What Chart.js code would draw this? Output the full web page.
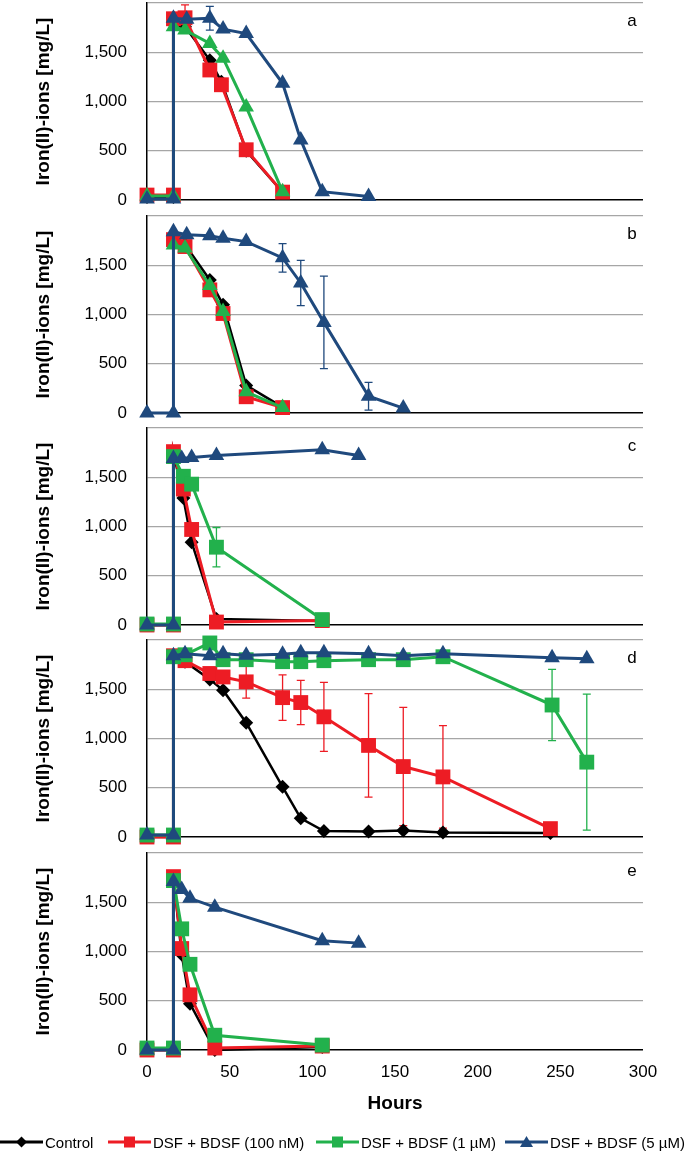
<!DOCTYPE html>
<html>
<head>
<meta charset="utf-8">
<script src="https://cdn.jsdelivr.net/npm/chart.js@4.4.0/dist/chart.umd.min.js"></script>
<style>
  body { margin: 0; background: #fff; width: 685px; height: 1154px; position: relative; overflow: hidden;
         font-family: 'Liberation Sans', Arial, sans-serif; }
  canvas.panel { position: absolute; left: 0; }
  #legend { position: absolute; left: 0; top: 1132px; width: 685px; height: 20px; font-size: 15px; color: #000; }
  .item { position: absolute; top: 0; height: 20px; display: flex; align-items: center; white-space: nowrap; }
  .item svg { margin-right: 2px; }
</style>
</head>
<body>
<canvas class="panel" id="p0" width="685" height="221"></canvas>
<canvas class="panel" id="p1" width="685" height="221"></canvas>
<canvas class="panel" id="p2" width="685" height="221"></canvas>
<canvas class="panel" id="p3" width="685" height="221"></canvas>
<canvas class="panel" id="p4" width="685" height="279"></canvas>
<div id="legend"></div>
<script>
// series shared by every panel
const seriesNames = ['Control', 'DSF + BDSF (100 nM)', 'DSF + BDSF (1 µM)', 'DSF + BDSF (5 µM)'];
const seriesColors = ['#000000', '#ED1C24', '#22B14C', '#1F497D'];
const panelLetters = ['a', 'b', 'c', 'd', 'e'];
const yTicks = [0, 500, 1000, 1500, 2000];
const xTicks = [0, 50, 100, 150, 200, 250, 300];

// [hours, mg/L]
// panel a
const ctrlA  = [[0, 30], [16, 30], [16, 1850], [23, 1760], [38, 1420], [45, 1200], [60, 500], [82, 80]];
const redA   = [[0, 50], [16, 50], [16, 1840], [23, 1850], [38, 1320], [45, 1170], [60, 510], [82, 80]];
const greenA = [[0, 40], [16, 40], [16, 1760], [23, 1725], [38, 1590], [46, 1440], [60, 945], [82, 85]];
const blueA  = [[0, 10], [16, 10], [16, 1845], [24, 1835], [38, 1845], [46, 1735], [60, 1690], [82, 1185], [93, 610], [106, 85], [134, 35]];
const redAErr  = [null, null, null, 130, null, null, null, null];
const blueAErr = [null, null, null, null, 120, null, null, null, null, null, null];

// panel b
const ctrlB  = [[16, 1790], [23, 1710], [38, 1350], [46, 1100], [60, 280], [82, 60]];
const redB   = [[16, 1760], [23, 1690], [38, 1250], [46, 1010], [60, 165], [82, 55]];
const greenB = [[16, 1705], [23, 1675], [38, 1295], [46, 1030], [60, 215], [82, 55]];
const blueB  = [[0, 0], [16, 0], [16, 1840], [24, 1810], [38, 1800], [46, 1775], [60, 1740], [82, 1575], [93, 1320], [107, 920], [134, 170], [155, 50]];
const blueBErr = [null, null, null, null, null, null, null, 145, 230, 470, 140, null];

// panel c
const ctrlC  = [[0, 0], [16, 0], [16, 1750], [22, 1290], [27, 840], [42, 60], [106, 40]];
const redC   = [[0, 0], [16, 0], [16, 1760], [22, 1380], [27, 970], [42, 30], [106, 45]];
const greenC = [[0, 10], [16, 10], [16, 1710], [22, 1510], [27, 1430], [42, 790], [106, 55]];
const blueC  = [[0, 0], [16, 0], [16, 1690], [21, 1690], [27, 1700], [42, 1720], [106, 1780], [128, 1720]];
const greenCErr = [null, null, null, null, null, 200, null];

// panel d
const ctrlD  = [[0, 0], [16, 0], [16, 1840], [23, 1780], [38, 1600], [46, 1490], [60, 1160], [82, 510], [93, 190], [107, 60], [134, 55], [155, 65], [179, 45], [244, 40]];
const redD   = [[0, 0], [16, 0], [16, 1840], [23, 1790], [38, 1660], [46, 1625], [60, 1575], [82, 1415], [93, 1365], [107, 1220], [134, 930], [155, 715], [179, 610], [244, 85]];
const greenD = [[0, 20], [16, 20], [16, 1830], [23, 1850], [38, 1970], [46, 1800], [60, 1800], [82, 1780], [93, 1780], [107, 1790], [134, 1800], [155, 1800], [179, 1830], [245, 1340], [266, 760]];
const blueD  = [[0, 20], [16, 20], [16, 1840], [23, 1860], [38, 1840], [46, 1860], [60, 1845], [82, 1855], [93, 1870], [107, 1870], [134, 1860], [155, 1840], [179, 1860], [245, 1820], [266, 1810]];
const redDErr   = [null, null, null, null, null, null, 165, 230, 225, 350, 525, 600, 520, null];
const greenDErr = [null, null, null, null, null, null, null, null, null, null, null, null, null, 362, 690];

// panel e
const ctrlE  = [[0, 0], [16, 0], [16, 1750], [21, 970], [26, 470], [41, 0], [106, 30]];
const redE   = [[0, 0], [16, 0], [16, 1760], [21, 1030], [26, 560], [41, 20], [106, 40]];
const greenE = [[0, 20], [16, 20], [16, 1720], [21, 1230], [26, 870], [41, 150], [106, 50]];
const blueE  = [[0, 0], [16, 0], [16, 1710], [21, 1630], [26, 1540], [41, 1450], [106, 1110], [128, 1085]];

const panels = [
    { series: [ctrlA, redA, greenA, blueA], errors: [null, redAErr, null, blueAErr] },
    { series: [ctrlB, redB, greenB, blueB], errors: [null, null, null, blueBErr] },
    { series: [ctrlC, redC, greenC, blueC], errors: [null, null, greenCErr, null] },
    { series: [ctrlD, redD, greenD, blueD], errors: [null, redDErr, greenDErr, null] },
    { series: [ctrlE, redE, greenE, blueE], errors: [null, null, null, null] }
];

const zeroLines = [200, 413, 625, 837, 1050];   // page y of each panel's 0 line
const plotHeight = 197;
const padTop = 12;
const FONT = "'Liberation Sans', Arial, sans-serif";

// marker per series; the 1 µM series uses triangles in panels a and b
const pointStyles = ['rectRot', 'rect', 'rect', 'triangle'];
const pointRadii = [7, 10.5, 10.5, 9];
const lineWidths = [2.5, 3, 3, 3];
const greenTrianglePanels = [0, 1];

const errorBars = {
    id: 'errorBars',
    beforeDatasetsDraw(chart) {
        const { ctx } = chart;
        const xs = chart.scales.x, ys = chart.scales.y;
        chart.data.datasets.forEach(ds => {
            if (!ds.errors) return;
            ctx.save();
            ctx.strokeStyle = ds.borderColor;
            ctx.lineWidth = 1.3;
            ds.errors.forEach((e, j) => {
                if (e == null) return;
                const p = ds.data[j];
                const x = xs.getPixelForValue(p.x);
                const yTop = ys.getPixelForValue(p.y + e);
                const yBot = ys.getPixelForValue(p.y - e);
                ctx.beginPath();
                ctx.moveTo(x, yTop); ctx.lineTo(x, yBot);
                ctx.moveTo(x - 4, yTop); ctx.lineTo(x + 4, yTop);
                ctx.moveTo(x - 4, yBot); ctx.lineTo(x + 4, yBot);
                ctx.stroke();
            });
            ctx.restore();
        });
    }
};

const panelLetter = {
    id: 'panelLetter',
    afterDraw(chart, args, opts) {
        const { ctx, chartArea } = chart;
        ctx.save();
        ctx.font = '17px ' + FONT;
        ctx.fillStyle = '#000';
        ctx.textAlign = 'center';
        ctx.textBaseline = 'middle';
        ctx.fillText(opts.text, chartArea.right - 11, chartArea.top + 18);
        ctx.restore();
    }
};

panels.forEach((panel, i) => {
    const canvas = document.getElementById('p' + i);
    canvas.style.top = (zeroLines[i] - plotHeight - padTop) + 'px';
    const last = i === panels.length - 1;

    const datasets = panel.series.map((pts, s) => {
        const tri = s === 2 && greenTrianglePanels.includes(i);
        return {
            label: seriesNames[s],
            data: pts.map(p => ({ x: p[0], y: p[1] })),
            errors: panel.errors[s],
            borderColor: seriesColors[s],
            backgroundColor: seriesColors[s],
            borderWidth: lineWidths[s],
            pointStyle: tri ? 'triangle' : pointStyles[s],
            pointRadius: tri ? 9 : pointRadii[s],
            pointBorderWidth: 0,
            tension: 0,
            clip: false,
            order: 3 - s
        };
    });

    new Chart(canvas, {
        type: 'line',
        data: { datasets },
        plugins: [errorBars, panelLetter],
        options: {
            responsive: false,
            devicePixelRatio: 1,
            animation: false,
            layout: { padding: { top: padTop, bottom: last ? 0 : padTop, left: 0, right: 42 } },
            plugins: {
                legend: { display: false },
                tooltip: { enabled: false },
                panelLetter: { text: panelLetters[i] }
            },
            scales: {
                x: {
                    type: 'linear',
                    min: 0,
                    max: 300,
                    display: last,
                    afterBuildTicks: s => { s.ticks = xTicks.map(v => ({ value: v })); },
                    afterFit: s => {
                        s.height = last ? 70 : 0;
                        s.paddingTop = 0; s.paddingBottom = 0;
                    },
                    grid: { display: false, drawTicks: false },
                    border: { display: false },
                    ticks: { color: '#000', padding: 12, maxRotation: 0, font: { family: FONT, size: 17 } },
                    title: {
                        display: true,
                        text: 'Hours',
                        color: '#000',
                        padding: { top: 0, bottom: 5 },
                        font: { family: FONT, size: 19, weight: 'bold' }
                    }
                },
                y: {
                    min: 0,
                    max: 2000,
                    afterBuildTicks: s => { s.ticks = yTicks.map(v => ({ value: v })); },
                    afterFit: s => {
                        s.width = 147;
                        s.paddingTop = 0; s.paddingBottom = 0;
                    },
                    grid: {
                        drawTicks: false,
                        color: c => (c.tick && c.tick.value === 0) ? '#000' : '#a6a6a6',
                        lineWidth: c => (c.tick && c.tick.value === 0) ? 1.5 : 1.2
                    },
                    border: { color: '#000', width: 1.5 },
                    ticks: {
                        color: '#000',
                        padding: 20,
                        font: { family: FONT, size: 17 },
                        callback: v => v === 2000 ? '' : v.toLocaleString('en-US')
                    },
                    title: {
                        display: true,
                        text: 'Iron(II)-ions [mg/L]',
                        color: '#000',
                        padding: { top: 32, bottom: 0 },
                        font: { family: FONT, size: 19, weight: 'bold' }
                    }
                }
            }
        }
    });
});

// legend: line with marker, then the series name
const legendLefts = [0, 108, 316, 505];
const legend = document.getElementById('legend');
seriesNames.forEach((name, s) => {
    const c = seriesColors[s];
    let marker;
    if (s === 0) marker = `<polygon points="21.5,2.5 27,8 21.5,13.5 16,8" fill="${c}"/>`;
    else if (s === 3) marker = `<polygon points="21.5,2 28,13 15,13" fill="${c}"/>`;
    else marker = `<rect x="16" y="2.5" width="11" height="11" fill="${c}"/>`;
    const item = document.createElement('div');
    item.className = 'item';
    item.style.left = legendLefts[s] + 'px';
    item.innerHTML = `<svg width="43" height="16"><line x1="0" y1="8" x2="43" y2="8" stroke="${c}" stroke-width="3"/>${marker}</svg><span>${name}</span>`;
    legend.appendChild(item);
});
</script>
</body>
</html>
